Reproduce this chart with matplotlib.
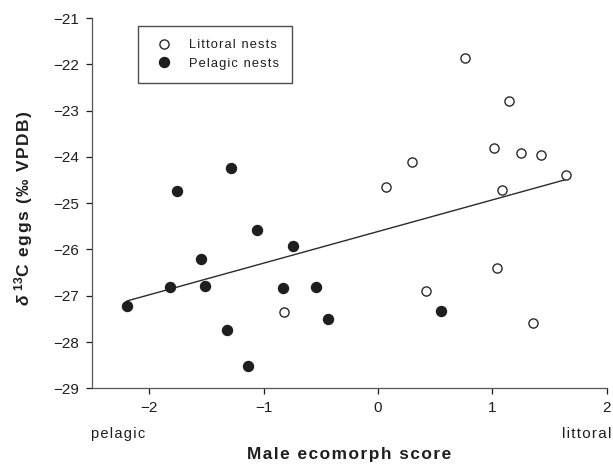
import numpy as np
import matplotlib
matplotlib.use("Agg")
import matplotlib.pyplot as plt

# littoral nests (open circles)
littoral_x = [0.756, 1.144, 1.013, 1.249, 1.420, 0.293, 0.072, 1.080, 1.642,
              1.036, 0.419, 1.356, -0.824]
littoral_y = [-21.87, -22.80, -23.80, -23.92, -23.95, -24.10, -24.65, -24.72,
              -24.39, -26.41, -26.90, -27.59, -27.36]

# pelagic nests (filled circles)
pelagic_x = [-1.761, -1.287, -1.054, -0.746, -1.549, -1.817, -1.508, -0.834,
             -2.192, -1.322, -1.139, -0.540, -0.437, 0.547]
pelagic_y = [-24.74, -24.24, -25.57, -25.92, -26.21, -26.81, -26.80, -26.84,
             -27.22, -27.73, -28.52, -26.81, -27.51, -27.34]

# regression line end points
fit_x = [-2.19, 1.64]
fit_y = [-27.11, -24.49]

x_ticks = [-2, -1, 0, 1, 2]
y_ticks = [-29, -28, -27, -26, -25, -24, -23, -22, -21]

plt.rcParams["font.family"] = ["Liberation Sans", "DejaVu Sans"]
plt.rcParams["mathtext.fontset"] = "custom"
plt.rcParams["mathtext.rm"] = "Liberation Sans:bold"
plt.rcParams["mathtext.it"] = "Liberation Sans:italic:bold"
plt.rcParams["mathtext.bf"] = "Liberation Sans:bold"

INK = "#1e1e1e"


def track(s):
    # loose letter spacing like the original figure
    return "\u200a".join(s)


def fmt(t):
    return f"\u2212{abs(t)}" if t < 0 else str(t)


fig = plt.figure(figsize=(6.13, 4.65), dpi=100)
ax = fig.add_axes([0.150, 0.165, 0.840, 0.796])

ax.plot(fit_x, fit_y, color="#2a2a2a", lw=1.0, zorder=1)
ax.plot(pelagic_x, pelagic_y, "o", ms=7.2, mfc=INK, mec=INK,
        label=track("Pelagic nests"), zorder=3)
ax.plot(littoral_x, littoral_y, "o", ms=6.6, mfc="white", mec="#2a2a2a",
        mew=1.0, label=track("Littoral nests"), zorder=3)

ax.set_xlim(-2.5, 2)
ax.set_ylim(-29, -21)
ax.set_xticks(x_ticks)
ax.set_yticks(y_ticks)
ax.set_xticklabels([fmt(t) for t in x_ticks])
ax.set_yticklabels([fmt(t) for t in y_ticks])
ax.tick_params(direction="out", length=4.5, width=0.9, labelsize=11,
               colors=INK, pad=4.5)
ax.tick_params(axis="y", pad=5.0)
for s in ["top", "right"]:
    ax.spines[s].set_visible(False)
for s in ["left", "bottom"]:
    ax.spines[s].set_color("#555555")
    ax.spines[s].set_linewidth(0.9)

ax.set_ylabel(r"$\delta$ $^{13}$" + track("C eggs (‰ VPDB)"), fontsize=12.5,
              fontweight="bold", color=INK)
ax.yaxis.set_label_coords(-0.111, 0.487)
ax.set_xlabel(track("Male ecomorph score"), fontsize=12.4, fontweight="bold",
              color=INK, va="top")
ax.xaxis.set_label_coords(0.5, -0.158)

fig.text(0.148, 0.058, track("pelagic"), fontsize=10.5, color=INK, ha="left")
fig.text(0.997, 0.058, track("littoral"), fontsize=11, color=INK, ha="right")

handles, labels = ax.get_legend_handles_labels()
leg = ax.legend(handles[::-1], labels[::-1], loc="upper left",
                bbox_to_anchor=(0.089, 0.978), borderaxespad=0, frameon=True,
                fancybox=False, edgecolor="#222222", fontsize=9.3,
                borderpad=1.0, handletextpad=1.0, labelspacing=0.5,
                handlelength=2.0)
leg.get_frame().set_linewidth(1.0)
for t in leg.get_texts():
    t.set_color(INK)

fig.savefig("out.png", dpi=100)
